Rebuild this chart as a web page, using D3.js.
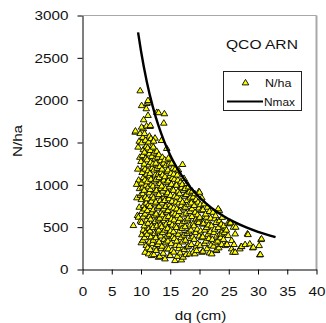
<!DOCTYPE html>
<html>
<head>
<meta charset="utf-8">
<script src="https://cdn.jsdelivr.net/npm/d3@7"></script>
<style>
  html, body { margin: 0; padding: 0; background: #fff; }
  svg { display: block; font-family: "Liberation Sans", Arial, sans-serif; }
</style>
</head>
<body>
<div id="chart"></div>
<script>
// plot observations: [dq (cm), N/ha]
const stands = [
  [8.7,524],[9.0,1626],[9.05,1640],[9.3,851],[9.4,642],[9.55,622],[9.7,740],[9.85,1610],[9.86,2115],[9.45,1190],
  [9.6,1060],[9.75,960],[9.5,1450],[9.8,1330],[9.9,575],[9.7,1520],[9.25,1010],[9.9,880],
  [10.05,320],[10.3,350],[10.15,415],[10.4,470],[10.1,560],[10.35,625],[10.2,690],[10.45,760],[10.05,830],[10.3,900],
  [10.3,976],[10.1,1025],[10.4,1090],[10.2,1150],[10.45,1215],[10.0,1280],[10.25,1350],[10.4,1420],[10.1,1500],[10.3,1565],
  [10.4,1667],[10.1,1686],[10.45,1773],[10.1,1940],
  [10.7,208],[10.9,290],[10.6,380],[10.85,450],[10.55,520],[10.95,590],[10.7,660],[10.6,720],[10.9,790],[10.75,860],
  [10.55,940],[10.85,1000],[10.65,1060],[10.95,1130],[10.7,1190],[10.55,1250],[10.85,1320],[10.6,1390],[10.9,1460],[10.75,1530],
  [10.6,1610],[10.95,1700],[10.9,1903],[11.0,1965],
  [11.3,189],[11.15,260],[11.45,330],[11.05,420],[11.35,490],[11.2,550],[11.45,630],[11.1,700],[11.3,770],[11.05,840],
  [11.4,910],[11.25,980],[11.1,1040],[11.45,1110],[11.2,1170],[11.35,1240],[11.05,1300],[11.4,1370],[11.15,1440],[11.3,1510],
  [11.45,1580],[11.2,1824],[11.3,1981],[11.2,2000],
  [11.8,169],[11.6,240],[11.95,310],[11.7,390],[11.55,460],[11.9,530],[11.65,600],[11.85,680],[11.55,750],[11.75,810],
  [11.95,880],[11.6,950],[11.8,1010],[11.7,1070],[11.55,1140],[11.9,1200],[11.65,1270],[11.85,1340],[11.6,1410],[11.95,1470],
  [11.7,1550],[11.55,1694],[11.6,1706],
  [12.2,180],[12.45,270],[12.1,350],[12.35,430],[12.05,500],[12.4,570],[12.25,640],[12.1,710],[12.45,780],[12.15,850],
  [12.35,920],[12.05,990],[12.3,1050],[12.45,1120],[12.2,1180],[12.05,1250],[12.4,1310],[12.25,1380],[12.1,1450],[12.4,1556],
  [12.15,1520],
  [13.0,149],[12.6,230],[12.85,300],[12.55,380],[12.9,450],[12.7,520],[12.95,590],[12.6,660],[12.8,730],[12.55,800],
  [12.9,870],[12.65,940],[12.85,1000],[12.6,1070],[12.95,1130],[12.75,1200],[12.55,1260],[12.85,1330],[12.7,1400],[12.7,1860],
  [13.2,160],[13.45,250],[13.1,330],[13.35,400],[13.05,470],[13.4,540],[13.2,610],[13.45,680],[13.1,750],[13.3,820],
  [13.05,890],[13.4,960],[13.25,1020],[13.1,1090],[13.45,1150],[13.2,1220],[13.35,1290],[13.05,1360],[13.5,1528],[13.0,1856],
  [13.8,196],[13.6,280],[13.95,360],[13.7,440],[13.55,510],[13.9,580],[13.65,650],[13.85,720],[13.6,790],[13.95,860],
  [13.75,930],[13.55,990],[13.9,1060],[13.7,1120],[13.6,1190],[13.85,1260],[13.65,1330],[13.9,1733],[14.0,1844],
  [14.1,130],[14.35,248],[14.2,320],[14.45,400],[14.05,470],[14.3,540],[14.15,610],[14.4,680],[14.25,750],[14.05,820],
  [14.4,890],[14.2,960],[14.35,1030],[14.1,1100],[14.45,1160],[14.25,1230],[14.05,1300],[14.4,1434],
  [14.7,248],[14.9,169],[14.6,340],[14.85,420],[14.55,490],[14.95,560],[14.7,630],[14.6,700],[14.9,770],[14.75,840],
  [14.55,910],[14.85,980],[14.65,1050],[14.95,1110],[14.6,1180],[14.8,1250],[14.7,1320],
  [15.0,169],[15.3,230],[15.15,310],[15.45,390],[15.05,460],[15.35,530],[15.2,600],[15.45,670],[15.1,740],[15.3,810],
  [15.05,880],[15.4,950],[15.2,1010],[15.35,1080],[15.1,1140],[15.45,1200],[15.25,1260],
  [15.8,110],[15.6,210],[15.95,290],[15.7,370],[15.55,450],[15.9,520],[15.65,590],[15.85,660],[15.6,730],[15.95,800],
  [15.75,870],[15.55,940],[15.9,1000],[15.7,1070],[15.6,1130],[15.85,1190],
  [16.2,160],[16.45,250],[16.1,340],[16.35,420],[16.05,500],[16.4,570],[16.25,640],[16.1,720],[16.45,790],[16.15,860],
  [16.35,930],[16.05,1000],[16.3,1060],[16.2,1120],[16.4,1180],
  [16.9,118],[16.7,200],[16.55,290],[16.85,380],[16.6,460],[16.95,540],[16.7,610],[16.55,690],[16.9,760],[16.75,830],
  [16.6,900],[16.95,970],[16.8,1040],[17.1,1245],
  [17.2,150],[17.4,240],[17.1,330],[17.35,410],[17.05,490],[17.45,570],[17.2,650],[17.3,730],[17.1,800],[17.45,870],
  [17.25,940],[17.05,1010],[17.35,1080],
  [17.7,180],[17.9,270],[17.6,350],[17.85,430],[17.55,510],[17.95,590],[17.7,670],[17.6,740],[17.9,820],[17.75,890],
  [17.55,960],[17.85,1020],
  [18.3,189],[18.1,280],[18.45,370],[18.2,450],[18.4,530],[18.05,610],[18.35,690],[18.7,721],[18.15,770],[18.4,850],
  [18.25,920],[18.1,980],
  [18.9,210],[18.6,300],[18.85,390],[18.55,470],[18.95,550],[18.7,630],[18.6,790],[18.9,860],[18.75,930],
  [19.2,190],[19.45,280],[19.1,360],[19.35,440],[19.05,520],[19.4,600],[19.25,680],[19.1,760],[19.4,830],[19.2,900],
  [19.5,228],[19.7,310],[19.95,400],[19.6,480],[19.85,560],[19.8,603],[19.65,650],[19.9,730],[19.75,800],[19.9,925],
  [20.4,208],[20.1,290],[20.35,380],[20.2,460],[20.45,540],[20.05,620],[20.3,700],[20.15,770],[20.4,850],[20.0,917],
  [20.6,220],[20.85,310],[20.55,390],[20.9,470],[20.7,550],[20.95,630],[20.6,710],[20.8,780],
  [21.3,250],[21.1,340],[21.45,420],[21.2,500],[21.4,580],[21.2,622],[21.05,660],[21.35,740],
  [21.7,200],[21.95,290],[21.6,370],[21.85,450],[21.55,530],[21.9,610],[21.7,690],
  [22.1,189],[22.4,280],[22.2,360],[22.45,440],[22.05,520],[22.6,603],[22.3,680],
  [22.9,228],[22.9,236],[22.7,320],[22.95,400],[22.6,480],[22.85,560],[22.75,640],
  [23.3,260],[23.1,340],[23.45,420],[23.2,500],[23.4,580],[23.4,700],[23.2,721],
  [23.8,300],[23.6,380],[23.8,425],[23.95,460],[23.7,540],[23.9,620],
  [24.4,287],[24.1,360],[24.4,485],[24.25,440],[24.15,520],
  [24.7,300],[24.9,405],[24.6,470],[24.85,550],
  [25.2,544],[25.2,563],[25.3,555],[25.5,248],[25.5,346],
  [25.7,208],[25.9,300],[25.8,504],
  [26.1,208],[26.1,425],[26.2,504],
  [26.9,248],[27.1,275],[27.2,275],[27.8,299],
  [28.2,425],[28.3,417],[28.6,307],[29.1,260],[29.2,267],[30.2,287],[30.3,177],[30.4,181],[30.5,358],[30.6,366]
];

// Nmax line
const nmaxDq = [9.5, 10, 11, 12, 13, 14, 15, 16, 18, 20, 22, 24, 26, 28, 30, 33];
const nmaxN  = [2800, 2580, 2215, 1927, 1695, 1507, 1349, 1217, 1007, 851, 730, 636, 559, 497, 445, 382];

const xTicks = [0, 5, 10, 15, 20, 25, 30, 35, 40];
const yTicks = [0, 500, 1000, 1500, 2000, 2500, 3000];

const W = 326, H = 323;
const plotL = 82.5, plotR = 316.5, plotT = 15.5, plotB = 269.5;
const stretch = 1.22; // the original font runs wide

const svg = d3.select('#chart').append('svg')
  .attr('width', W)
  .attr('height', H);

const x = d3.scaleLinear().domain([0, 40]).range([plotL, plotR]);
const y = d3.scaleLinear().domain([0, 3000]).range([plotB, plotT]);

// grey frame on top and right
svg.append('line')
  .attr('x1', plotL).attr('x2', plotR).attr('y1', plotT).attr('y2', plotT)
  .attr('stroke', '#a8a8a8').attr('stroke-width', 1);
svg.append('line')
  .attr('x1', plotR).attr('x2', plotR).attr('y1', plotT).attr('y2', plotB)
  .attr('stroke', '#a8a8a8').attr('stroke-width', 2);

// axes
const yAxis = svg.append('g')
  .attr('transform', 'translate(' + plotL + ',0)')
  .call(d3.axisLeft(y).tickValues(yTicks).tickFormat(d3.format('d')).tickSize(5).tickSizeOuter(0));
yAxis.selectAll('text')
  .attr('x', -14 / stretch)
  .attr('dy', '0.34em')
  .attr('transform', 'scale(' + stretch + ',1)');

const xAxis = svg.append('g')
  .attr('transform', 'translate(0,' + plotB + ')')
  .call(d3.axisBottom(x).tickValues(xTicks).tickFormat(d3.format('d')).tickSize(5).tickSizeOuter(0));
xAxis.selectAll('text')
  .attr('y', 27)
  .attr('dy', 0)
  .attr('transform', 'scale(' + stretch + ',1)');

svg.selectAll('.tick text')
  .attr('font-size', 12.5)
  .attr('fill', '#111')
  .attr('font-family', '"Liberation Sans", Arial, sans-serif');
svg.selectAll('.domain, .tick line').attr('stroke', '#000');

// triangles
const tri = 'M0,-3.1L3.3,2.4L-3.3,2.4Z';
svg.append('g').selectAll('path')
  .data(stands)
  .enter()
  .append('path')
  .attr('d', tri)
  .attr('transform', function (d) { return 'translate(' + x(d[0]) + ',' + y(d[1]) + ')'; })
  .attr('fill', '#ffff00')
  .attr('stroke', '#000')
  .attr('stroke-width', 0.9);

// Nmax curve
const nmax = nmaxDq.map(function (d, i) { return [d, nmaxN[i]]; });
svg.append('path')
  .datum(nmax)
  .attr('d', d3.line().x(function (d) { return x(d[0]); }).y(function (d) { return y(d[1]); }).curve(d3.curveMonotoneX))
  .attr('fill', 'none')
  .attr('stroke', '#000')
  .attr('stroke-width', 2.4);

// title
svg.append('text')
  .attr('transform', 'translate(226,48.5) scale(1.3,1)')
  .attr('font-size', 12)
  .attr('fill', '#111')
  .text('QCO ARN');

// legend
const lg = svg.append('g');
lg.append('rect')
  .attr('x', 223.5).attr('y', 71.5).attr('width', 78).attr('height', 39)
  .attr('fill', '#fff').attr('stroke', '#222').attr('stroke-width', 1);
lg.append('path')
  .attr('d', tri)
  .attr('transform', 'translate(245.5,82.5)')
  .attr('fill', '#ffff00').attr('stroke', '#000').attr('stroke-width', 0.9);
lg.append('text')
  .attr('transform', 'translate(265,86.5) scale(1.14,1)')
  .attr('font-size', 11).attr('fill', '#111')
  .text('N/ha');
lg.append('line')
  .attr('x1', 227).attr('x2', 263).attr('y1', 101.5).attr('y2', 101.5)
  .attr('stroke', '#000').attr('stroke-width', 2);
lg.append('text')
  .attr('transform', 'translate(264,105.5) scale(1.08,1)')
  .attr('font-size', 11).attr('fill', '#111')
  .text('Nmax');

// axis titles
svg.append('text')
  .attr('transform', 'translate(22,141) rotate(-90) scale(' + stretch + ',1)')
  .attr('text-anchor', 'middle')
  .attr('font-size', 12.5).attr('fill', '#111')
  .text('N/ha');
svg.append('text')
  .attr('transform', 'translate(200.5,319.5) scale(' + stretch + ',1)')
  .attr('text-anchor', 'middle')
  .attr('font-size', 12.5).attr('fill', '#111')
  .text('dq (cm)');
</script>
</body>
</html>
